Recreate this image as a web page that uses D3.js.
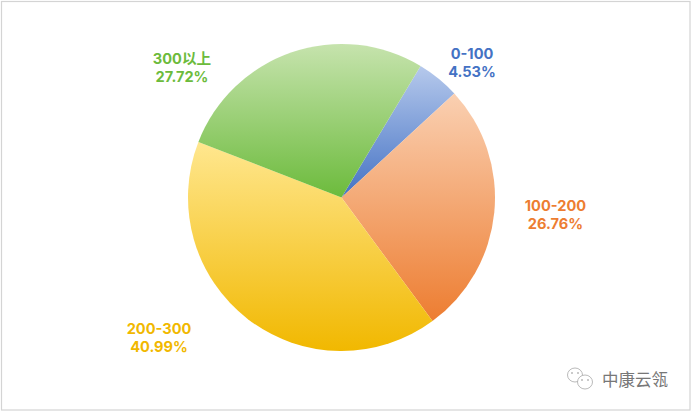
<!DOCTYPE html>
<html>
<head>
<meta charset="utf-8">
<script src="https://cdn.jsdelivr.net/npm/d3@7"></script>
<style>
  html, body { margin: 0; padding: 0; background: #fff; }
  svg { display: block; }
  text { font-family: Inter, "Noto Sans CJK SC", sans-serif; }
</style>
</head>
<body>
<div id="wrapper"></div>
<script>
// 0. Data
const categories = ["0-100", "100-200", "200-300", "300以上"]
const shares = [4.53, 26.76, 40.99, 27.72]
const topColors = ["#b6c9ec", "#fad0b2", "#ffe78f", "#c6e3ad"]
const bottomColors = ["#4472c4", "#ed7d31", "#f1b800", "#6cbb3c"]
const labelColors = ["#4472c4", "#ed7d31", "#f1b800", "#6cbb3c"]
const labelSpots = [[472, 53], [555.5, 205], [159, 328], [182, 58]]

async function drawPie() {

  // 1. Dimensions
  const width = 691
  const height = 411
  const radius = 153.5
  const cx = 341.5
  const cy = 197.5
  const startAngle = 31 * Math.PI / 180

  // 2. Draw canvas
  const wrapper = d3.select("#wrapper")
    .append("svg")
      .attr("width", width)
      .attr("height", height)

  wrapper.append("rect")
      .attr("x", 1.5)
      .attr("y", 1.5)
      .attr("width", 688.5)
      .attr("height", 408.5)
      .attr("fill", "#fff")
      .attr("stroke", "#d4d4d4")
      .attr("stroke-width", 1.2)

  // one vertical gradient per slice, fitted to the slice's own box
  const defs = wrapper.append("defs")
  const gradients = defs.selectAll("linearGradient")
    .data(categories)
    .enter().append("linearGradient")
      .attr("id", (d, i) => `slice-${i}`)
      .attr("x1", 0).attr("y1", 0)
      .attr("x2", 0).attr("y2", 1)
  gradients.append("stop")
      .attr("offset", "0%")
      .attr("stop-color", (d, i) => topColors[i])
  gradients.append("stop")
      .attr("offset", "100%")
      .attr("stop-color", (d, i) => bottomColors[i])

  // 3. Pie
  const pie = d3.pie()
    .sort(null)
    .startAngle(startAngle)
    .endAngle(startAngle + 2 * Math.PI)
  const arc = d3.arc().innerRadius(0).outerRadius(radius)

  wrapper.append("g")
      .attr("transform", `translate(${cx},${cy})`)
    .selectAll("path")
    .data(pie(shares))
    .enter().append("path")
      .attr("d", arc)
      .attr("fill", (d, i) => `url(#slice-${i})`)

  // 4. Labels, two separate lines each
  const labelGroups = wrapper.selectAll(".label")
    .data(categories)
    .enter().append("g")
      .attr("class", "label")
      .attr("text-anchor", "middle")
      .attr("font-size", 14.6)
      .attr("font-weight", 700)
      .attr("fill", (d, i) => labelColors[i])
  labelGroups.append("text")
      .attr("x", (d, i) => labelSpots[i][0])
      .attr("y", (d, i) => labelSpots[i][1] + 5.5)
      .text(d => d)
  labelGroups.append("text")
      .attr("x", (d, i) => labelSpots[i][0])
      .attr("y", (d, i) => labelSpots[i][1] + 23.5)
      .text((d, i) => `${shares[i].toFixed(2)}%`)

  // 5. Watermark
  const mark = wrapper.append("g")
      .attr("fill", "#fff")
      .attr("stroke", "#a8a8a8")
      .attr("stroke-width", 0.8)
  mark.append("ellipse").attr("cx", 575).attr("cy", 375).attr("rx", 7.5).attr("ry", 7)
  mark.append("ellipse").attr("cx", 585).attr("cy", 382).attr("rx", 7.5).attr("ry", 7)
  mark.selectAll(".eye")
    .data([[572, 373], [578, 373], [582, 380], [588, 380]])
    .enter().append("circle")
      .attr("cx", d => d[0])
      .attr("cy", d => d[1])
      .attr("r", 0.8)
      .attr("fill", "#888")
      .attr("stroke", "none")

  wrapper.append("text")
      .attr("x", 602)
      .attr("y", 386)
      .attr("font-size", 16.5)
      .attr("fill", "#777")
      .style("font-family", '"Noto Sans CJK SC", sans-serif')
      .text("中康云瓴")
}
drawPie()
</script>
</body>
</html>
